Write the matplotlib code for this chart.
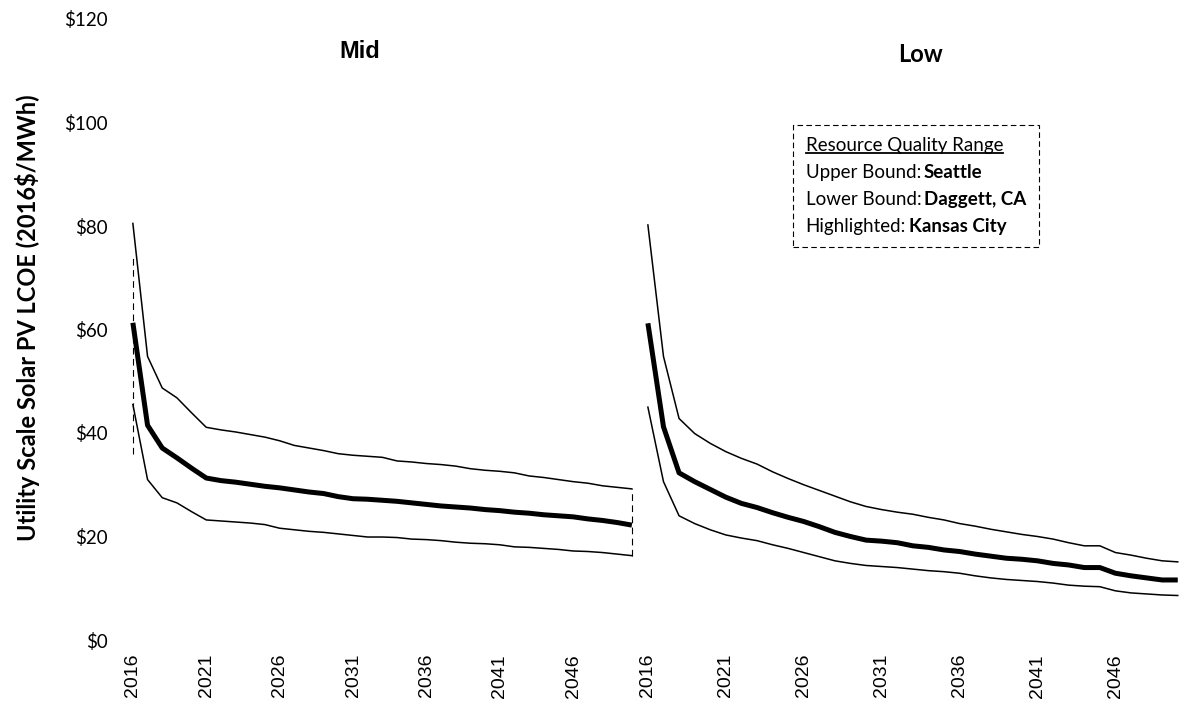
import matplotlib.pyplot as plt
from matplotlib.offsetbox import TextArea, HPacker, VPacker, AnchoredOffsetbox

years = list(range(2016, 2051))

# Mid scenario (upper bound = Seattle, lower bound = Daggett CA, highlighted = Kansas City)
mid_upper = [80.5, 54.8, 48.7, 46.8, 43.9, 41.1, 40.6, 40.2, 39.7, 39.2,
             38.5, 37.6, 37.1, 36.6, 36.0, 35.7, 35.5, 35.3, 34.6, 34.4,
             34.1, 33.9, 33.6, 33.1, 32.8, 32.6, 32.3, 31.7, 31.4, 31.0,
             30.6, 30.3, 29.8, 29.5, 29.2]
mid_kc = [61.3, 41.5, 37.1, 35.2, 33.2, 31.3, 30.8, 30.5, 30.1, 29.7,
          29.4, 29.0, 28.6, 28.3, 27.7, 27.3, 27.2, 27.0, 26.8, 26.5,
          26.2, 25.9, 25.7, 25.5, 25.2, 25.0, 24.7, 24.5, 24.2, 24.0,
          23.8, 23.4, 23.1, 22.7, 22.2]
mid_lower = [45.5, 31.0, 27.5, 26.5, 24.8, 23.2, 23.0, 22.8, 22.6, 22.3,
             21.6, 21.3, 21.0, 20.8, 20.5, 20.2, 19.9, 19.9, 19.8, 19.5,
             19.4, 19.2, 18.9, 18.7, 18.6, 18.4, 18.0, 17.9, 17.7, 17.5,
             17.2, 17.1, 16.9, 16.6, 16.3]

# Low scenario
low_upper = [80.2, 54.8, 42.8, 39.9, 38.0, 36.4, 35.1, 34.0, 32.5, 31.2,
             30.0, 28.9, 27.8, 26.7, 25.8, 25.2, 24.7, 24.3, 23.7, 23.2,
             22.5, 22.0, 21.4, 20.9, 20.4, 20.0, 19.5, 18.8, 18.2, 18.2,
             16.9, 16.4, 15.8, 15.3, 15.1]
low_kc = [61.2, 41.2, 32.3, 30.6, 29.1, 27.6, 26.4, 25.6, 24.6, 23.7,
          22.9, 21.9, 20.8, 20.0, 19.3, 19.1, 18.8, 18.2, 17.9, 17.4,
          17.1, 16.6, 16.2, 15.8, 15.6, 15.3, 14.8, 14.5, 14.0, 14.0,
          12.9, 12.4, 12.0, 11.6, 11.6]
low_lower = [45.0, 30.6, 24.0, 22.5, 21.3, 20.3, 19.7, 19.2, 18.4, 17.7,
             16.9, 16.1, 15.3, 14.8, 14.4, 14.2, 14.0, 13.7, 13.4, 13.2,
             12.9, 12.4, 12.0, 11.7, 11.5, 11.3, 11.0, 10.6, 10.4, 10.3,
             9.5, 9.1, 8.9, 8.7, 8.6]

yticks = [0, 20, 40, 60, 80, 100, 120]
ytick_labels = ['$0', '$20', '$40', '$60', '$80', '$100', '$120']
xticks = [2016, 2021, 2026, 2031, 2036, 2041, 2046]

W, H = 1185, 702
fig = plt.figure(figsize=(W / 100, H / 100), dpi=100)
bottom = (H - 640) / H
height = (640 - 19) / H

ax1 = fig.add_axes([127 / W, bottom, (637 - 127) / W, height])
ax2 = fig.add_axes([644 / W, bottom, (1184 - 644) / W, height])

for ax, up, kc, lo in [(ax1, mid_upper, mid_kc, mid_lower),
                       (ax2, low_upper, low_kc, low_lower)]:
    ax.plot(years, up, color='black', lw=1.1)
    ax.plot(years, lo, color='black', lw=1.1)
    ax.plot(years, kc, color='black', lw=3.6, solid_capstyle='butt')
    ax.set_ylim(0, 120)
    ax.set_xticks(xticks)
    ax.set_xticklabels([str(x) for x in xticks], rotation=90,
                       family='Liberation Sans', fontsize=14)
    ax.tick_params(axis='x', length=0, pad=10)
    for s in ax.spines.values():
        s.set_visible(False)
    ax.set_facecolor('none')

ax1.set_xlim(2015.6, 2050.35)
ax2.set_xlim(2015.75, 2050.4)

# dashed end markers on the Mid panel
ax1.vlines([2016], 36, 74, colors='black', lw=0.8, linestyles=(0, (6, 4)))
ax1.vlines([2050], mid_lower[-1], mid_upper[-1], colors='black', lw=0.8,
           linestyles=(0, (6, 4)))

ax1.set_yticks(yticks)
ax1.set_yticklabels(ytick_labels, family='Lato', fontsize=13.5)
ax1.tick_params(axis='y', length=0, pad=14)
ax2.set_yticks([])

fig.text(360 / W, 1 - 52 / H, 'Mid', family='Liberation Sans', weight='bold',
         fontsize=17, ha='center', va='center')
fig.text(920 / W, 1 - 55 / H, 'Low', family='Lato', weight='bold',
         fontsize=17, ha='center', va='center')

fig.text(28 / W, 1 - 318 / H, 'Utility Scale Solar PV LCOE (2016$/MWh)',
         family='Lato', weight='bold', fontsize=17, rotation=90,
         ha='center', va='center')

# legend-like text box
fs = 13.5
def row(a, b):
    return HPacker(children=[TextArea(a, textprops=dict(family='Lato', fontsize=fs)),
                             TextArea(b, textprops=dict(family='Lato', fontsize=fs, weight='bold'))],
                   pad=0, sep=2)

head = TextArea('Resource Quality Range',
                textprops=dict(family='Lato', fontsize=fs))
box = VPacker(children=[head,
                        row('Upper Bound:', 'Seattle'),
                        row('Lower Bound:', 'Daggett, CA'),
                        row('Highlighted:', 'Kansas City')],
              pad=0, sep=7, align='left')
anch = AnchoredOffsetbox(loc='upper left', child=box, pad=0.9, frameon=True,
                         bbox_to_anchor=(793 / W, 1 - 125 / H),
                         bbox_transform=fig.transFigure, borderpad=0)
anch.patch.set_linestyle((0, (5, 3)))
anch.patch.set_linewidth(0.8)
anch.patch.set_edgecolor('black')
anch.patch.set_boxstyle('square', pad=0)
fig.add_artist(anch)

# underline the header under its actual text
fig.canvas.draw()
bb = head._text.get_window_extent(fig.canvas.get_renderer())
uy = bb.y0 + 2
fig.add_artist(plt.Line2D([bb.x0 / W, bb.x1 / W], [uy / H, uy / H],
                          transform=fig.transFigure, color='black', lw=1.3,
                          zorder=10))

fig.savefig('out.png', dpi=100)
